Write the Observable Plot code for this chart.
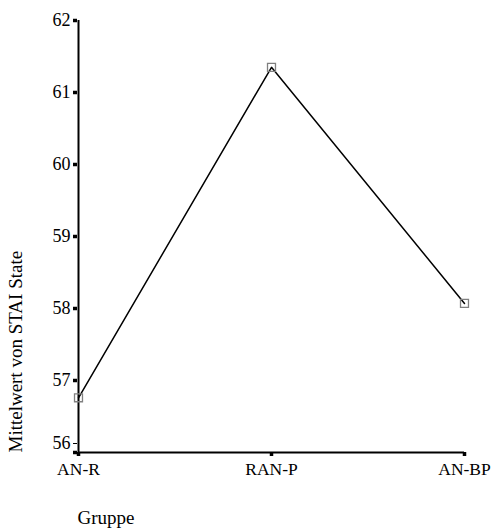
<!DOCTYPE html>
<html>
<head>
<meta charset="utf-8">
<script src="https://cdn.jsdelivr.net/npm/d3@7"></script>
<script src="https://cdn.jsdelivr.net/npm/@observablehq/plot@0.6"></script>
<style>
  html, body { margin: 0; padding: 0; background: #fff; }
  svg { display: block; }
  svg text { font-family: 'Liberation Serif', 'Times New Roman', serif; }
</style>
</head>
<body>
<div id="chart"></div>
<script>
const groups = ["AN-R", "RAN-P", "AN-BP"];
const means = [56.76, 61.35, 58.07];
const yTicks = [56, 57, 58, 59, 60, 61, 62];
const xTitle = "Gruppe";
const yTitle = "Mittelwert von STAI State";

const data = groups.map((g, i) => ({ g, v: means[i] }));
const font = "'Liberation Serif', 'Times New Roman', serif";
const yMin = yTicks[0];

const chart = Plot.plot({
  width: 491,
  height: 532,
  marginLeft: 77,
  marginRight: 27,
  marginTop: 20,
  marginBottom: 80,
  style: { fontFamily: font, background: "#fff", color: "#000" },
  x: { type: "point", domain: groups, padding: 0, label: null },
  y: { domain: [56, 62], label: null },
  marks: [
    Plot.axisY({ ticks: yTicks, tickSize: 4, strokeWidth: 3.5, text: null, label: null }),
    Plot.axisY({ ticks: yTicks.filter(t => t !== yMin), tickSize: 4, tickPadding: 3, fontSize: 18, fontFamily: font, tick: null, label: null, tickFormat: d => String(d) }),
    Plot.axisY({ ticks: [yMin], tickSize: 4, tickPadding: 3, fontSize: 18, fontFamily: font, tick: null, label: null, dy: -9, tickFormat: d => String(d) }),
    Plot.axisX({ tickSize: 4, tickPadding: 6, fontSize: 17.5, fontFamily: font, strokeWidth: 3.5, label: null }),
    Plot.ruleX([0], { x: () => groups[0], y1: 56, y2: 62, stroke: "#000", strokeWidth: 2 }),
    Plot.ruleY([56], { x1: () => groups[0], x2: () => groups[2], stroke: "#000", strokeWidth: 2 }),
    Plot.line(data, { x: "g", y: "v", stroke: "#000", strokeWidth: 1.5 }),
    Plot.dot(data, { x: "g", y: "v", symbol: "square", r: 4.5, stroke: "#808080", strokeWidth: 1.3, fill: "none" }),
    Plot.text([yTitle], { frameAnchor: "bottom-left", rotate: -90, textAnchor: "start", dx: -56, fontSize: 19, fontFamily: font, fill: "#000", style: "letter-spacing:1.35px" }),
    Plot.text([xTitle], { frameAnchor: "bottom-left", textAnchor: "start", dy: 71, fontSize: 19, fontFamily: font, fill: "#000" })
  ]
});
document.getElementById("chart").appendChild(chart);
</script>
</body>
</html>
